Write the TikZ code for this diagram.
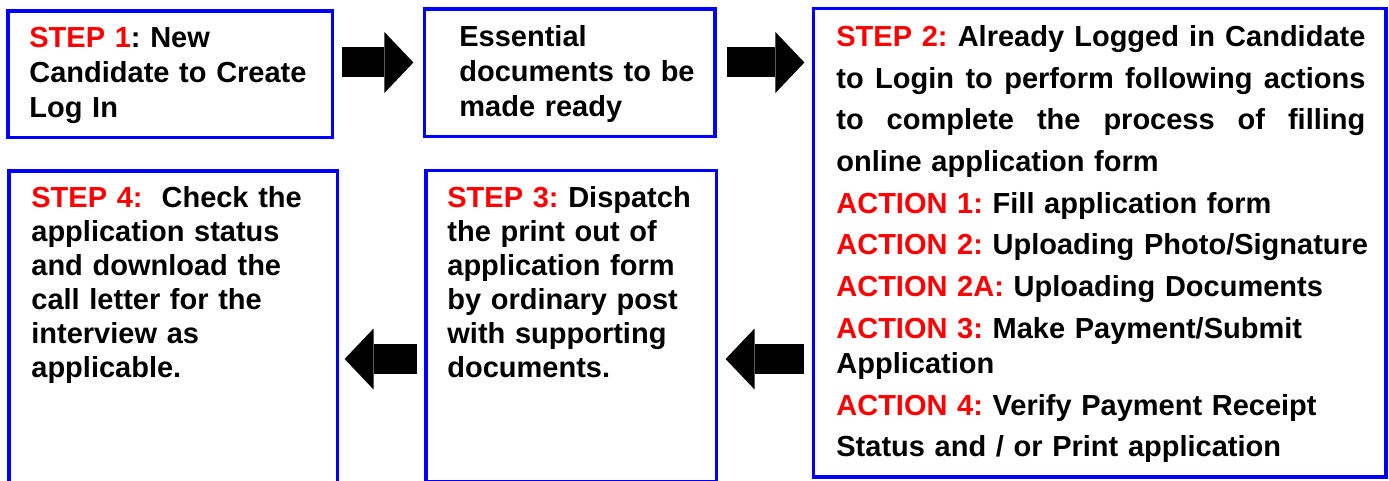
\documentclass[tikz,border=0pt]{standalone}
\usepackage{fontspec}
\setmainfont{Liberation Sans}
\usepackage{tikz}
\usetikzlibrary{arrows.meta, calc, fit, positioning}
\definecolor{stepblue}{RGB}{0,0,255}
\definecolor{stepred}{RGB}{255,0,0}
\newcommand{\steplabel}[1]{\textcolor{stepred}{#1}}
\frenchspacing
\tikzset{
  stepbox/.style={draw=stepblue, line width=1.6pt, inner sep=0pt},
  steptext/.style={anchor=base west, align=left, text width=150pt, inner sep=0pt, font=\bfseries\frenchspacing\fontsize{14.5}{#1}\selectfont},
  steptext/.default=17.5pt,
  blockarrow/.style={line width=15pt, -{Triangle[width=30.5pt, length=14.5pt, line width=0pt]}}
}

\begin{document}
\begin{tikzpicture}[x=0.5pt, y=-0.5pt]
    \useasboundingbox (0,0) rectangle (1389,481);
    \clip (0,0) rectangle (1389,481);
    \def\ytop{62.5}
    \def\ybot{359}
    \node[stepbox, fit={(8,11) (332.5,137.5)}] (s1) {};
    \node[stepbox, fit={(424.5,9) (715,136.5)}] (s2) {};
    \node[stepbox, fit={(813.5,8.5) (1386,477)}] (s3) {};
    \node[stepbox, fit={(426,170.5) (716.5,482)}] (s5) {};
    \node[stepbox, fit={(9,171) (337.5,490)}] (s4) {};

    \node[steptext] (t1) at (29,47.5) {\steplabel{STEP 1}: New\\Candidate to Create\\Log In};
    \node[steptext] (t2) at (459,46.5) {Essential\\documents to be\\made ready};
    \node[steptext, text width=285pt] (t3) at (836,46.5) {%
        \makebox[264.5pt][l]{\steplabel{STEP 2:} \hfill Already \hfill Logged \hfill in \hfill Candidate}\\[3.35pt]
        \makebox[264.5pt][l]{to \hfill Login \hfill to \hfill perform \hfill following \hfill actions}\\[3.35pt]
        \makebox[264.5pt][l]{to \hfill complete \hfill the \hfill process \hfill of \hfill filling}\\[3.35pt]
        online application form\\[3.35pt]
        \steplabel{ACTION 1:} Fill application form\\[3.35pt]
        \steplabel{ACTION 2:} Uploading Photo/Signature\\[3.35pt]
        \steplabel{ACTION 2A:} Uploading Documents\\[3.35pt]
        \steplabel{ACTION 3:} Make Payment/Submit\\
        Application\\[3.35pt]
        \steplabel{ACTION 4:} Verify Payment Receipt\\[3.35pt]
        Status and / or Print application};
    \node[steptext=17pt] (t5) at (447,208) {\steplabel{STEP 3:} Dispatch\\the print out of\\application form\\by ordinary post\\with supporting\\documents.};
    \node[steptext=17pt] (t4) at (31,208) {\steplabel{STEP 4:}\hspace{9.5pt}Check the\\application status\\and download the\\call letter for the\\interview as\\applicable.};

    \draw[blockarrow] ($(s1.east |- 0,\ytop)+(8,0)$) -- ($(s2.west |- 0,\ytop)+(-9.5,0)$);
    \draw[blockarrow] ($(s2.east |- 0,\ytop)+(10,0)$) -- ($(s3.west |- 0,\ytop)+(-7.5,0)$);
    \draw[blockarrow] ($(s3.west |- 0,\ybot)+(-7.5,0)$) -- ($(s5.east |- 0,\ybot)+(7.5,0)$);
    \draw[blockarrow] ($(s5.west |- 0,\ybot)+(-7,0)$) -- ($(s4.east |- 0,\ybot)+(5.5,0)$);
\end{tikzpicture}
\end{document}
